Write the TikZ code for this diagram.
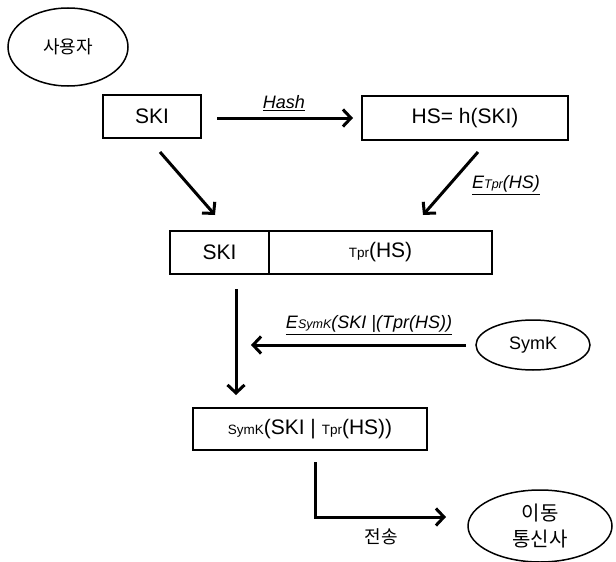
\documentclass[tikz,border=0pt]{standalone}
\usepackage{fontspec}
\setmainfont{Liberation Sans}
\newfontfamily\kr{Noto Sans CJK KR}
\usetikzlibrary{arrows.meta,shapes.geometric}
\newcommand{\sm}[1]{{\fontsize{13.5}{15}\selectfont #1}}
\newcommand{\smi}[1]{{\fontsize{12.5}{14}\selectfont #1}}
\tikzset{
  box/.style={draw, line width=1.8pt, rectangle, inner sep=0pt, font=\fontsize{21}{24}\selectfont},
  ell/.style={draw, line width=1.5pt, ellipse, inner sep=0pt},
  arr/.style={line width=3pt, -{Straight Barb[length=8pt,width=17pt,line width=3pt]}},
  lbl/.style={font=\fontsize{18}{21}\selectfont\itshape, inner sep=1pt}
}
\begin{document}
\begin{tikzpicture}[x=1pt,y=-1pt]
\useasboundingbox (0,0) rectangle (616,562);
% nodes
\node[ell, minimum width=120pt, minimum height=78pt, font=\kr\fontsize{18}{20}\selectfont] (u) at (68,47) {사용자};
\node[box, minimum width=98pt, minimum height=43pt] (ski) at (152,116.5) {SKI};
\node[box, minimum width=206pt, minimum height=44pt] (hs) at (465,118) {HS= h(SKI)};
\node[box, minimum width=99pt, minimum height=43pt] (bski) at (219.5,252.5) {SKI};
\node[box, minimum width=223pt, minimum height=43pt] (btpr) at (380.5,252.5) {\sm{Tpr}(HS)};
\node[ell, minimum width=114pt, minimum height=50pt, font=\fontsize{18}{21}\selectfont] (symk) at (533,345) {SymK};
\node[box, minimum width=234pt, minimum height=42pt] (enc) at (310,429) {\sm{SymK}(SKI | \sm{Tpr}(HS))};
\node[ell, minimum width=144pt, minimum height=72pt, align=center, font=\kr\fontsize{20}{26}\selectfont] (mob) at (540,526) {이동\\통신사};
% coordinates
\coordinate (h1) at (217,118);
\coordinate (h2) at (353,118);
\coordinate (a1s) at (160,152);
\coordinate (a1e) at (215,215);
\coordinate (a2s) at (478,152);
\coordinate (a2e) at (423,215);
\coordinate (v1) at (236,289);
\coordinate (v2) at (236,395);
\coordinate (s1) at (466,345);
\coordinate (s2) at (251,345);
\coordinate (e1) at (315,462);
\coordinate (e2) at (315,517);
\coordinate (e3) at (446,517);
% connectors
\draw[arr] (h1) -- (h2);
\node[lbl] (lh) at (284,103) {\underline{Hash}};
\draw[arr] (a1s) -- (a1e);
\draw[arr] (a2s) -- (a2e);
\node[lbl] (le) at (506,185) {\underline{E\smi{Tpr}(HS)}};
\draw[arr] (v1) -- (v2);
\draw[arr] (s1) -- (s2);
\node[lbl] (ls) at (369,325) {\underline{E\smi{SymK}(SKI |(Tpr(HS))}};
\draw[arr, line cap=butt] (e1) -- (e2) -- (e3);
\node[font=\kr\fontsize{18}{20}\selectfont] (ts) at (381,537) {전송};
\end{tikzpicture}
\end{document}
